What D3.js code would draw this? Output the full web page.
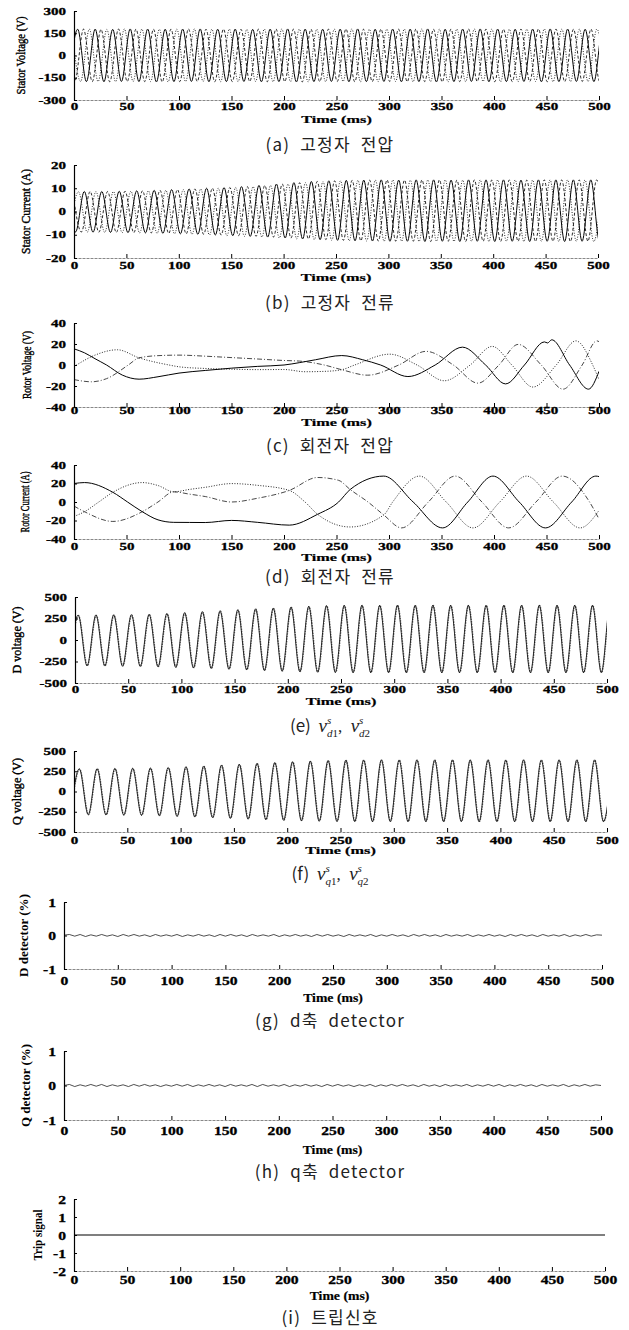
<!DOCTYPE html>
<html><head><meta charset="utf-8">
<script src="https://cdn.jsdelivr.net/npm/d3@7"></script>
<style>body{margin:0;background:#fff}svg{display:block}</style>
</head><body>
<svg id="chart" width="629" height="1330"></svg>
<script>
// ---------------- DATA ----------------
const timeTicks = [0, 50, 100, 150, 200, 250, 300, 350, 400, 450, 500];
const halfPeriod = 8.333;    // ms between successive extrema of the 60 Hz waves
const cycleLength = 16.667;  // ms per cycle (envelope arrays are indexed per cycle)

// (a) stator voltage, three phases: peak / trough level for each cycle
const statorVoltagePeaks = [177,178,176,179,178,177,178,179,177,178,176,178,179,178,177,178,179,177,178,178,179,177,178,179,178,177,178,179,178,177,178];
const statorVoltageTroughs = [-175,-176,-177,-175,-176,-178,-176,-175,-177,-176,-175,-177,-176,-178,-176,-175,-177,-176,-175,-177,-176,-178,-176,-175,-177,-176,-175,-177,-176,-175,-176];
const statorVoltageFirstExtremum = [-4.83, -7.61, -2.05];
const statorVoltageFirstSign = [-1, 1, 1];
const statorVoltageTicks = [300, 150, 0, -150, -300];

// (b) stator current
const statorCurrentPeaks = [8.5,8.6,8.6,8.7,8.9,9.1,9.4,9.7,10.0,10.3,10.7,11.2,11.8,12.4,12.9,13.2,13.4,13.5,13.6,13.5,13.6,13.6,13.5,13.6,13.6,13.6,13.5,13.6,13.6,13.6,13.6];
const statorCurrentTroughs = [-8.8,-8.9,-9.0,-9.1,-9.2,-9.4,-9.6,-9.8,-10.1,-10.4,-10.7,-11.0,-11.4,-11.8,-12.1,-12.4,-12.6,-12.7,-12.8,-12.8,-12.9,-12.8,-12.9,-12.8,-12.9,-12.8,-12.9,-12.8,-12.9,-12.8,-12.9];
const statorCurrentFirstExtremum = [-6.83, -1.27, -4.05];
const statorCurrentFirstSign = [1, 1, -1];
const statorCurrentTicks = [20, 10, 0, -10, -20];

// (c) rotor voltage [time ms, volts]
const rotorVoltageA = [[0,15.4],[10,11.6],[20,6.0],[31,0],[46,-9.6],[62,-13.5],[80,-11.2],[100,-7.7],[125,-5.2],[150,-3.0],[175,-1.3],[200,0],[215,2.3],[230,5.0],[255,9.0],[275,5.0],[292,0],[318,-11],[344,0],[370,17],[392,0],[411,-18],[429,0],[448,22],[451,21],[455,24],[472,0],[490,-23],[500,-6]];
const rotorVoltageB = [[0,-13.9],[16.7,-16],[31,-13],[51.7,0],[62,6.8],[80,8.9],[100,9.4],[125,8.4],[140,7.6],[175,5.7],[200,4.3],[215,3.7],[238.3,0],[255,-4.5],[279.7,-9.7],[309.3,0],[335.3,13],[361.3,0],[384.7,-17.3],[404.7,0],[423,19.6],[445,0],[465.7,-23],[484,0],[498,23],[500,22.2]];
const rotorVoltageC = [[0,-1.5],[2.4,0],[20,9.4],[41.3,14.5],[62,6.8],[90.5,0],[100,-1.7],[125,-3.3],[150,-4.0],[175,-4.4],[200,-4.3],[220,-6.4],[240,-6.0],[255,-4.5],[267.3,0],[300.7,10.3],[326.7,0],[352.7,-15],[377.3,0],[398.3,17.7],[417,0],[437,-21],[459.3,0],[478,23],[494,0],[500,-14]];
const rotorVoltageTicks = [40, 20, 0, -20, -40];

// (d) rotor current [time ms, amperes]
const rotorCurrentA = [[0,20],[10,21],[37,10.5],[51,0],[65,-10.5],[80,-19.3],[95,-22],[110,-22.1],[125,-22.2],[150,-19.9],[175,-22.0],[205,-25],[232,-13.3],[252,0],[263,13.5],[295,28],[323,0],[351,-28],[375,0],[399,28],[424,0],[449,-28],[474,0],[497,28],[500,27.5]];
const rotorCurrentB = [[0,-4.4],[10,-10.5],[37,-21],[65,-10.5],[80,0],[95,11],[110,8.5],[125,5.9],[150,0],[175,4.1],[205,12.5],[232,26.5],[252,23.4],[263,13.5],[280,0],[295,-14],[312,-28],[337.5,0],[363,28],[388.5,0],[414,-28],[440,0],[465,28],[491,0],[500,-18.4]];
const rotorCurrentC = [[0,-15.6],[10,-10.5],[23.6,0],[37,10.5],[65,21],[80,17.8],[95,11],[110,13.6],[125,15.9],[150,19.9],[175,18],[205,12.5],[220,0],[232,-13.3],[263,-27],[295,-14],[303.5,0],[329,28],[354.5,0],[380,-28],[405.5,0],[431,28],[456.5,0],[482,-28],[500,-9.1]];
const rotorCurrentTicks = [40, 20, 0, -20, -40];

// (e) D voltage v_d1, v_d2
const dVoltage1Peaks = [290,292,293,295,300,308,318,330,340,352,362,372,384,392,400,403,405,404,405,404,405,404,405,404,405,404,405,404,405,404,405];
const dVoltage1Troughs = [-300,-302,-303,-305,-308,-312,-318,-325,-332,-340,-348,-356,-363,-370,-375,-378,-380,-381,-380,-381,-380,-381,-380,-381,-380,-381,-380,-381,-380,-381,-380];
const dVoltage2Peaks = [282,286,288,290,295,303,312,324,335,347,357,367,379,388,396,399,401,400,401,400,401,400,401,400,401,400,401,400,401,400,401];
const dVoltage2Troughs = [-296,-298,-299,-301,-304,-308,-314,-321,-328,-336,-344,-352,-359,-366,-371,-374,-376,-377,-376,-377,-376,-377,-376,-377,-376,-377,-376,-377,-376,-377,-376];
const dVoltageFirstExtremum = [-5.33, -5.0];
const dVoltageTicks = [500, 250, 0, -250, -500];

// (f) Q voltage v_q1, v_q2
const qVoltage1Peaks = [280,283,285,287,290,296,305,315,326,337,348,358,368,376,383,388,390,391,390,391,390,391,390,391,390,391,390,391,390,391,390];
const qVoltage1Troughs = [-285,-288,-290,-292,-295,-300,-307,-315,-323,-332,-341,-349,-356,-362,-367,-370,-372,-373,-372,-373,-372,-373,-372,-373,-372,-373,-372,-373,-372,-373,-372];
const qVoltage2Peaks = [275,279,281,283,286,292,300,310,321,332,343,353,363,371,378,383,385,386,385,386,385,386,385,386,385,386,385,386,385,386,385];
const qVoltage2Troughs = [-281,-284,-286,-288,-291,-296,-303,-311,-319,-328,-337,-345,-352,-358,-363,-366,-368,-369,-368,-369,-368,-369,-368,-369,-368,-369,-368,-369,-368,-369,-368];
const qVoltageFirstExtremum = [-3.33, -3.0];
const qVoltageTicks = [500, 250, 0, -250, -500];

// (g) (h) detectors, % (evenly spaced samples over 0-500 ms)
const dDetector = [0.01,0.03,-0.02,0.03,-0.03,0.02,-0.02,0.03,-0.02,0.02,-0.03,0.03,-0.02,0.03,-0.02,0.02,-0.03,0.03,-0.02,0.02,-0.02,0.03,-0.03,0.02,-0.02,0.03,-0.02,0.02,-0.03,0.03,-0.02,0.03,-0.02,0.02,-0.03,0.03,-0.02,0.02,-0.02,0.03,-0.03,0.02,-0.02,0.03,-0.02,0.02,-0.03,0.03,-0.02,0.03,-0.02,0.02,-0.03,0.03,-0.02,0.02,-0.02,0.03,-0.03,0.02,-0.02,0.03,-0.02,0.02,-0.03,0.03,-0.02,0.03,-0.02,0.02,-0.03,0.03,-0.02,0.02,-0.02,0.03,-0.03,0.02,-0.02,0.03,-0.02,0.02,-0.03,0.03,-0.02,0.03,-0.02,0.02,-0.03,0.03,-0.02,0.02,-0.02,0.03,-0.03,0.02,-0.02,0.03,-0.02,0.02,0.01];
const qDetector = [0.00,0.03,-0.03,0.02,-0.02,0.03,-0.02,0.03,-0.03,0.02,-0.02,0.02,-0.03,0.03,-0.02,0.03,-0.02,0.02,-0.03,0.02,-0.02,0.03,-0.02,0.03,-0.03,0.02,-0.02,0.03,-0.02,0.02,-0.03,0.03,-0.02,0.02,-0.02,0.03,-0.03,0.03,-0.02,0.02,-0.02,0.03,-0.03,0.02,-0.02,0.03,-0.02,0.02,-0.03,0.03,-0.02,0.03,-0.02,0.02,-0.03,0.02,-0.02,0.03,-0.03,0.02,-0.02,0.03,-0.02,0.03,-0.02,0.02,-0.03,0.03,-0.02,0.02,-0.03,0.03,-0.02,0.02,-0.02,0.03,-0.03,0.02,-0.02,0.03,-0.02,0.03,-0.03,0.02,-0.02,0.03,-0.02,0.02,-0.03,0.03,-0.02,0.02,-0.02,0.03,-0.03,0.02,-0.02,0.03,-0.02,0.02,0.00];
const detectorTicks = [1, 0, -1];

// (i) trip signal
const tripTimes = [0, 500];
const tripValues = [0, 0];
const tripTicks = [2, 1, 0, -1, -2];

// ---------------- HELPERS ----------------
function waveFromExtrema(t0, sign, peaks, troughs) {
  const pts = [];
  let s = sign;
  for (let t = t0; t <= 512; t += halfPeriod) {
    const c = Math.max(0, Math.min(peaks.length - 1, Math.round(t / cycleLength)));
    pts.push([t, s > 0 ? peaks[c] : troughs[c]]);
    s = -s;
  }
  return pts;
}
function evenSeries(values) {
  return values.map((v, i) => [i * 500 / (values.length - 1), v]);
}

const solid = {stroke: '#000', width: 1.0, dash: null};
const dashed = {stroke: '#111', width: 0.9, dash: '3,2'};
const dotted = {stroke: '#111', width: 0.9, dash: '1,1.6'};
const dashDot = {stroke: '#333', width: 0.9, dash: '5,2,1,2'};
const grayDot = {stroke: '#777', width: 1.4, dash: '1.5,1'};

const small = {tickSize: 10, tickSx: 1.5, timeSize: 10.5, timeSx: 1.55, labelWeight: 'normal', labelSx: 1.1, labelSize: 11, labelStroke: 0.35};
const large = {tickSize: 12.5, tickSx: 1.25, timeSize: 12.5, timeSx: 1.1, labelWeight: 'bold', labelSx: 1.0, labelSize: 12.5, labelStroke: 0};

const panels = [
  {id:'a', x0:74, x1:599, yTop:11, yBot:100, ticks:statorVoltageTicks, tickY:110.5, timeY:123, capY:151, label:'Stator Voltage (V)', labelX:21, labelLen:78, font:small,
   caption:'(a)  고정자  전압',
   series: statorVoltageFirstExtremum.map((t0,i)=>({pts:waveFromExtrema(t0, statorVoltageFirstSign[i], statorVoltagePeaks, statorVoltageTroughs), style:[solid,dashed,dotted][i]}))},
  {id:'b', x0:74, x1:598, yTop:165, yBot:258, ticks:statorCurrentTicks, tickY:269, timeY:281, capY:309, label:'Stator Current (A)', labelX:26, labelLen:85, font:small,
   caption:'(b)  고정자  전류',
   series: statorCurrentFirstExtremum.map((t0,i)=>({pts:waveFromExtrema(t0, statorCurrentFirstSign[i], statorCurrentPeaks, statorCurrentTroughs), style:[solid,dashed,dotted][i]}))},
  {id:'c', x0:74, x1:599, yTop:323, yBot:407, ticks:rotorVoltageTicks, tickY:413.5, timeY:426, capY:452, label:'Rotor Voltage (V)', labelX:27, labelLen:68, font:small,
   caption:'(c)  회전자  전압',
   series:[{pts:rotorVoltageB, style:dashDot},{pts:rotorVoltageC, style:dotted},{pts:rotorVoltageA, style:solid}]},
  {id:'d', x0:74, x1:599, yTop:465, yBot:539, ticks:rotorCurrentTicks, tickY:550, timeY:561, capY:583, label:'Rotor Current (A)', labelX:25, labelLen:61, font:small,
   caption:'(d)  회전자  전류',
   series:[{pts:rotorCurrentB, style:dashDot},{pts:rotorCurrentC, style:dotted},{pts:rotorCurrentA, style:solid}]},
  {id:'e', x0:75, x1:607, yTop:597, yBot:683, ticks:dVoltageTicks, tickY:693, timeY:705, capY:732, label:'D voltage (V)', labelX:17, labelLen:67, font:small,
   math:['(e)','d1','d2'],
   series:[{pts:waveFromExtrema(dVoltageFirstExtremum[1], -1, dVoltage2Peaks, dVoltage2Troughs), style:grayDot},
           {pts:waveFromExtrema(dVoltageFirstExtremum[0], -1, dVoltage1Peaks, dVoltage1Troughs), style:{stroke:'#000', width:0.8, dash:null}}]},
  {id:'f', x0:74, x1:607, yTop:751, yBot:832, ticks:qVoltageTicks, tickY:844, timeY:854, capY:880, label:'Q voltage (V)', labelX:17, labelLen:67, font:small,
   math:['(f)','q1','q2'],
   series:[{pts:waveFromExtrema(qVoltageFirstExtremum[1], -1, qVoltage2Peaks, qVoltage2Troughs), style:grayDot},
           {pts:waveFromExtrema(qVoltageFirstExtremum[0], -1, qVoltage1Peaks, qVoltage1Troughs), style:{stroke:'#000', width:0.8, dash:null}}]},
  {id:'g', x0:64, x1:602, yTop:902, yBot:969, ticks:detectorTicks, tickY:985, timeY:1002, capY:1027, label:'D detector (%)', labelX:24, labelLen:83, font:large,
   caption:'(g)  d축  detector',
   series:[{pts:evenSeries(dDetector), style:{stroke:'#222', width:0.8, dash:null}, linear:true}]},
  {id:'h', x0:64, x1:601, yTop:1051, yBot:1120, ticks:detectorTicks, tickY:1135, timeY:1154, capY:1178, label:'Q detector (%)', labelX:26, labelLen:83, font:large,
   caption:'(h)  q축  detector',
   series:[{pts:evenSeries(qDetector), style:{stroke:'#222', width:0.8, dash:null}, linear:true}]},
  {id:'i', x0:74, x1:605, yTop:1199, yBot:1271, ticks:tripTicks, tickY:1284, timeY:1300, capY:1324, label:'Trip signal', labelX:38, labelLen:51, font:large,
   caption:'(i)  트립신호',
   series:[{pts:tripTimes.map((t,i)=>[t, tripValues[i]]), style:{stroke:'#000', width:1.1, dash:null}, linear:true}]}
];

// ---------------- DRAW ----------------
const svg = d3.select('#chart');
const defs = svg.append('defs');
const serif = "'Liberation Serif', 'Times New Roman', serif";
const cjk = "'Noto Sans CJK KR', 'Noto Sans', sans-serif";

panels.forEach(p => {
  const f = p.font;
  const x = d3.scaleLinear().domain([0, 500]).range([p.x0, p.x1]);
  const y = d3.scaleLinear().domain([p.ticks[p.ticks.length - 1], p.ticks[0]]).range([p.yBot, p.yTop]);
  const g = svg.append('g');

  defs.append('clipPath').attr('id', 'clip-' + p.id).append('rect')
    .attr('x', p.x0).attr('y', p.yTop - 2).attr('width', p.x1 - p.x0).attr('height', p.yBot - p.yTop + 2);

  // series
  const plot = g.append('g').attr('clip-path', `url(#clip-${p.id})`);
  p.series.forEach(s => {
    const line = d3.line().x(d => x(d[0])).y(d => y(d[1]))
      .curve(s.linear ? d3.curveLinear : d3.curveMonotoneX);
    plot.append('path').datum(s.pts).attr('d', line)
      .attr('fill', 'none').attr('stroke', s.style.stroke)
      .attr('stroke-width', s.style.width)
      .attr('stroke-dasharray', s.style.dash);
  });

  // x axis
  const xPad = p.tickY - p.yBot - 0.71 * f.tickSize;
  const xa = g.append('g').attr('transform', `translate(0,${p.yBot})`)
    .call(d3.axisBottom(x).tickValues(timeTicks).tickFormat(d => String(d))
      .tickSizeInner(-4).tickSizeOuter(0).tickPadding(xPad));
  xa.select('.domain').attr('stroke', '#888').attr('stroke-width', 1.2).attr('stroke-dasharray', '3,1');
  xa.selectAll('.tick line').attr('stroke', '#000');
  xa.selectAll('text').attr('font-family', serif).attr('font-weight', 'bold')
    .attr('font-size', f.tickSize).attr('fill', '#000')
    .attr('stroke', '#000').attr('stroke-width', 0.3)
    .attr('transform', `scale(${f.tickSx},1)`);

  // y axis
  const ya = g.append('g').attr('transform', `translate(${p.x0},0)`)
    .call(d3.axisLeft(y).tickValues(p.ticks).tickFormat(d => String(d))
      .tickSizeInner(-3).tickSizeOuter(0).tickPadding(8 / f.tickSx));
  ya.select('.domain').attr('stroke', '#000').attr('stroke-width', 1.2);
  ya.selectAll('.tick line').attr('stroke', '#000');
  ya.selectAll('text').attr('font-family', serif).attr('font-weight', 'bold')
    .attr('font-size', f.tickSize).attr('fill', '#000')
    .attr('stroke', '#000').attr('stroke-width', 0.3)
    .attr('transform', `scale(${f.tickSx},1)`);

  // x title
  const cx = (p.x0 + p.x1) / 2;
  g.append('text').attr('transform', `translate(${cx},${p.timeY}) scale(${f.timeSx},1)`)
    .attr('text-anchor', 'middle').attr('font-family', serif).attr('font-weight', 'bold')
    .attr('font-size', f.timeSize).attr('stroke', '#000').attr('stroke-width', 0.2).text('Time (ms)');

  // y title
  const cy = (p.yTop + p.yBot) / 2;
  g.append('text').attr('transform', `translate(${p.labelX},${cy}) scale(${f.labelSx},1) rotate(-90)`)
    .attr('text-anchor', 'middle').attr('dominant-baseline', 'central')
    .attr('font-family', serif).attr('font-weight', f.labelWeight)
    .attr('font-size', f.labelSize).attr('textLength', p.labelLen).attr('lengthAdjust', 'spacingAndGlyphs')
    .attr('stroke', '#000').attr('stroke-width', f.labelStroke)
    .text(p.label);

  // caption
  if (p.caption) {
    g.append('text').attr('x', 330).attr('y', p.capY).attr('text-anchor', 'middle')
      .attr('font-family', cjk).attr('font-size', 17).attr('letter-spacing', 1.2)
      .attr('fill', '#222').style('white-space', 'pre').text(p.caption);
  } else {
    const t = g.append('text').attr('x', 330).attr('y', p.capY).attr('text-anchor', 'middle')
      .attr('fill', '#222').style('white-space', 'pre');
    t.append('tspan').attr('font-family', cjk).attr('font-size', 17).text(p.math[0] + '  ');
    [p.math[1], p.math[2]].forEach((sub, k) => {
      t.append('tspan').attr('font-family', serif).attr('font-style', 'italic').attr('font-size', 19).text('v');
      t.append('tspan').attr('font-family', serif).attr('font-style', 'italic').attr('font-size', 11).attr('dy', -8).text('s');
      t.append('tspan').attr('font-family', serif).attr('font-style', 'italic').attr('font-size', 11).attr('dx', -4.3).attr('dy', 13).text(sub[0]);
      t.append('tspan').attr('font-family', serif).attr('font-size', 11).text(sub[1]);
      t.append('tspan').attr('font-family', serif).attr('font-size', 17).attr('dy', -5).text(k === 0 ? ',  ' : '');
    });
  }
});
</script>
</body></html>
